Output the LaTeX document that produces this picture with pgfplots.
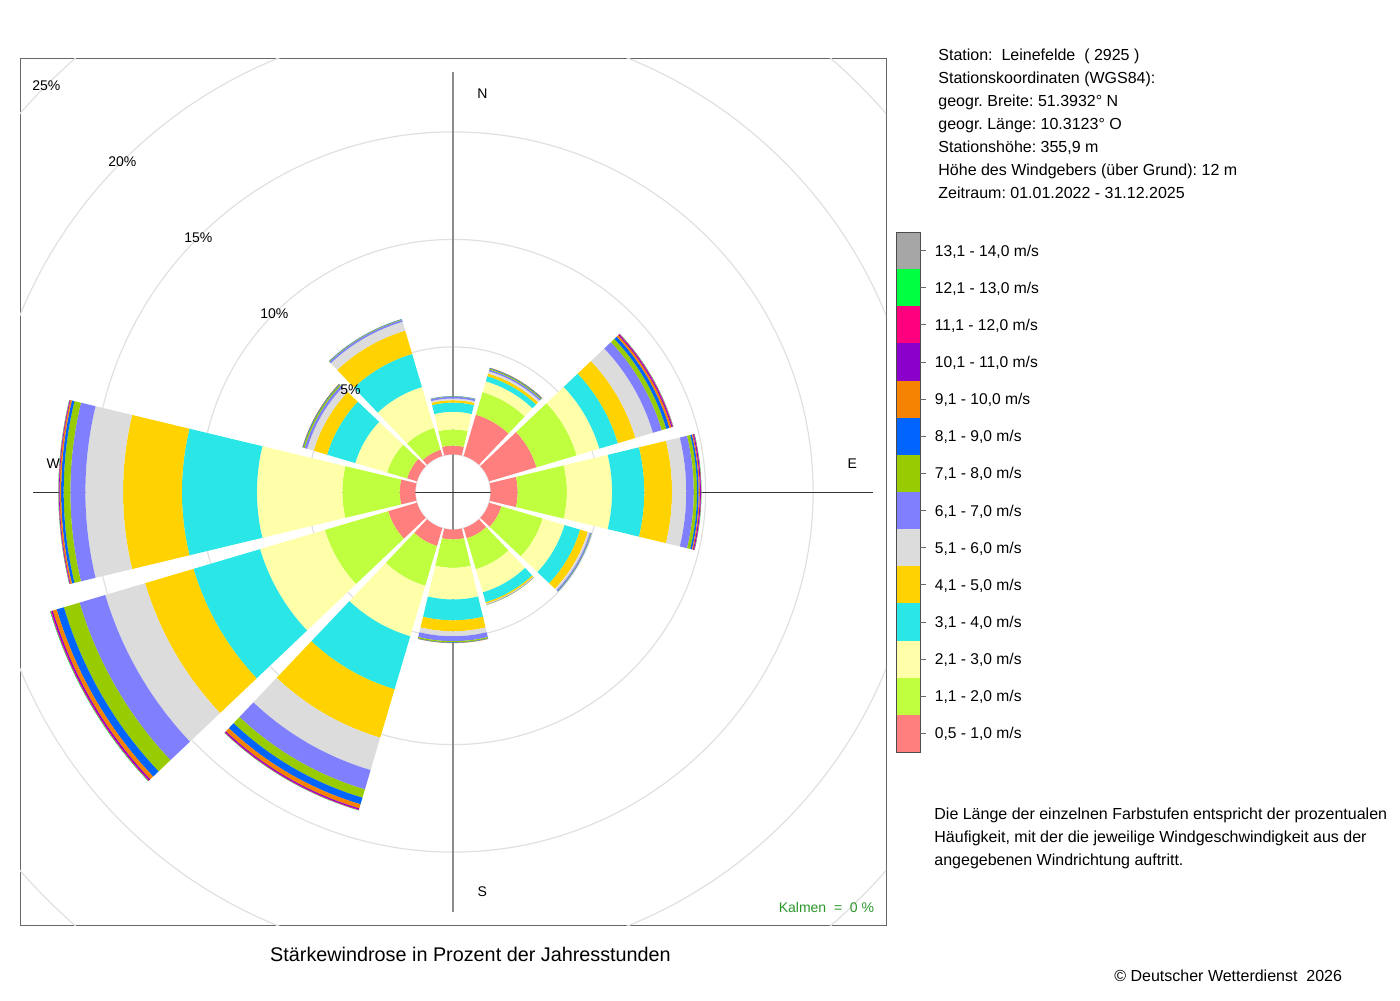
\documentclass[border=0pt]{standalone}
\usepackage{fontspec}
\setmainfont{Liberation Sans}
\usepackage{pgfplots}
\usepackage{pgfplotstable}
\pgfplotsset{compat=1.18}
\frenchspacing

\definecolor{cls1}{HTML}{FF7F7F}
\definecolor{cls2}{HTML}{BFFF3F}
\definecolor{cls3}{HTML}{FFFFAA}
\definecolor{cls4}{HTML}{2AE6E6}
\definecolor{cls5}{HTML}{FFD200}
\definecolor{cls6}{HTML}{DCDCDC}
\definecolor{cls7}{HTML}{8080FF}
\definecolor{cls8}{HTML}{99CC00}
\definecolor{cls9}{HTML}{0064FF}
\definecolor{cls10}{HTML}{F58200}
\definecolor{cls11}{HTML}{8C00CC}
\definecolor{cls12}{HTML}{FF007F}
\definecolor{cls13}{HTML}{00FF40}
\definecolor{cls14}{HTML}{A6A6A6}
\definecolor{gridc}{HTML}{E0E0E0}
\definecolor{kalm}{HTML}{2A962A}

% cumulative frequency (percent of hours) per direction sector and speed class
\pgfplotstableread{
dir c1 c2 c3 c4 c5 c6 c7 c8 c9 c10 c11 c12 c13 c14
0   0.41 1.16 1.98 2.41 2.52 2.60 2.68 2.70 2.71 2.71 2.71 2.71 2.71 2.71
30  2.00 3.10 3.62 3.87 4.00 4.11 4.19 4.24 4.27 4.28 4.28 4.28 4.28 4.28
60  2.30 4.25 5.35 6.25 7.10 7.95 8.38 8.60 8.75 8.85 8.90 8.93 8.94 8.95
90  1.26 3.55 5.65 7.15 8.44 9.10 9.45 9.60 9.68 9.73 9.78 9.80 9.81 9.81
120 0.60 2.60 3.66 4.42 4.79 4.89 4.95 4.97 4.98 4.98 4.98 4.98 4.98 4.98
150 0.50 2.00 3.12 3.60 3.67 3.70 3.72 3.73 3.73 3.73 3.73 3.73 3.73 3.73
180 0.46 1.78 3.25 4.22 4.73 4.96 5.19 5.25 5.27 5.28 5.28 5.28 5.28 5.28
210 0.87 2.80 5.25 7.82 10.17 11.74 12.68 13.08 13.40 13.60 13.66 13.69 13.70 13.70
240 1.40 4.47 7.61 10.84 13.19 15.12 16.37 17.13 17.48 17.67 17.74 17.78 17.80 17.80
270 0.73 3.40 7.37 10.86 13.60 15.35 16.05 16.36 16.48 16.55 16.58 16.60 16.61 16.61
300 0.48 1.45 2.99 4.36 5.01 5.33 5.45 5.52 5.55 5.56 5.56 5.56 5.56 5.56
330 0.30 1.36 3.34 4.95 6.08 6.51 6.60 6.63 6.64 6.64 6.64 6.64 6.64 6.64
}\rosedata

\newcommand\hole{1.749}
% #1 colour, #2 direction (deg, clockwise from N), #3 inner %, #4 outer %
\newcommand\seg[4]{%
  \addplot[fill=#1, draw=none, mark=none, forget plot, samples at={0,1,...,41}, variable=\t]
  ({ifthenelse(\t<20.5,\hole+#4,\hole+#3)*sin(ifthenelse(\t<20.5,#2-13.5+1.35*\t,#2+13.5-1.35*(\t-21)))},
   {ifthenelse(\t<20.5,\hole+#4,\hole+#3)*cos(ifthenelse(\t<20.5,#2-13.5+1.35*\t,#2+13.5-1.35*(\t-21)))});
}

\begin{document}
\begin{tikzpicture}
\path[use as bounding box] (0,0) rectangle (700pt,-500pt);
\begin{axis}[
  at={(10pt,-462.5pt)}, anchor=south west,
  width=433pt, height=433pt, scale only axis,
  xmin=-20.14, xmax=20.14, ymin=-20.14, ymax=20.14,
  xtick=\empty, ytick=\empty,
  axis line style={draw=black!60, line width=0.5pt},
  clip=true,
]
% grid circles
\draw[gridc, line width=0.6pt] (axis cs:0,0) circle[radius=1.749];
\draw[gridc, line width=0.6pt] (axis cs:0,0) circle[radius=6.749];
\draw[gridc, line width=0.6pt] (axis cs:0,0) circle[radius=11.749];
\draw[gridc, line width=0.6pt] (axis cs:0,0) circle[radius=16.749];
\draw[gridc, line width=0.6pt] (axis cs:0,0) circle[radius=21.749];
\draw[gridc, line width=0.6pt] (axis cs:0,0) circle[radius=26.749];
% cross
\draw[black!45, line width=0.9pt] (axis cs:0,-19.53) -- (axis cs:0,19.53);
\draw[black!80, line width=0.5pt] (axis cs:-19.53,0) -- (axis cs:19.53,0);
% bars
\pgfplotsforeachungrouped \i in {0,1,...,11}{%
  \pgfplotstablegetelem{\i}{dir}\of\rosedata\let\sdir\pgfplotsretval
  \def\rprev{0}%
  \pgfplotsforeachungrouped \k in {1,2,...,14}{%
    \pgfplotstablegetelem{\i}{c\k}\of\rosedata\let\rcur\pgfplotsretval
    \pgfmathtruncatemacro\segok{(\rcur>\rprev+0.0001)}%
    \ifnum\segok=1
      \edef\doit{\noexpand\seg{cls\k}{\sdir}{\rprev}{\rcur}}\doit
    \fi
    \let\rprev\rcur
  }%
}
% labels
\node[font=\fontsize{7}{8}\selectfont] at (axis cs:-4.772,4.772) {5\%};
\node[font=\fontsize{7}{8}\selectfont] at (axis cs:-8.308,8.308) {10\%};
\node[font=\fontsize{7}{8}\selectfont] at (axis cs:-11.843,11.843) {15\%};
\node[font=\fontsize{7}{8}\selectfont] at (axis cs:-15.379,15.379) {20\%};
\node[font=\fontsize{7}{8}\selectfont] at (axis cs:-18.914,18.914) {25\%};
\node[font=\fontsize{7}{8}\selectfont] at (axis cs:1.363,18.53) {N};
\node[font=\fontsize{7}{8}\selectfont] at (axis cs:1.363,-18.58) {S};
\node[font=\fontsize{7}{8}\selectfont] at (axis cs:18.57,1.326) {E};
\node[font=\fontsize{7}{8}\selectfont] at (axis cs:-18.59,1.326) {W};
\end{axis}

\begin{scope}[x=0.5pt,y=-0.5pt]
\node[anchor=base east, inner sep=0, text=kalm, font=\fontsize{7}{8}\selectfont] at (874.5,912.5) {Kalmen\ \ =\ \ 0 \%};
\node[anchor=base, inner sep=0, font=\fontsize{9.9}{11}\selectfont] at (470.5,961) {Stärkewindrose in Prozent der Jahresstunden};
\begin{scope}[every node/.style={anchor=base west, inner sep=0, font=\fontsize{8}{9.6}\selectfont}]
\node at (938,60.7) {Station:\ \ Leinefelde\ \ ( 2925 )};
\node at (938,83.7) {Stationskoordinaten (WGS84):};
\node at (938,106.7) {geogr. Breite: 51.3932° N};
\node at (938,129.7) {geogr. Länge: 10.3123° O};
\node at (938,152.7) {Stationshöhe: 355,9 m};
\node at (938,175.7) {Höhe des Windgebers (über Grund): 12 m};
\node at (938,198.7) {Zeitraum: 01.01.2022 - 31.12.2025};
\node at (934,819.7) {Die Länge der einzelnen Farbstufen entspricht der prozentualen};
\node at (934,842.7) {Häufigkeit, mit der die jeweilige Windgeschwindigkeit aus der};
\node at (934,865.7) {angegebenen Windrichtung auftritt.};
\node at (1114,981.7) {© Deutscher Wetterdienst\ \ 2026};
\end{scope}
% colour legend
\fill[cls14] (896,232.00) rectangle (920,269.14);
\fill[cls13] (896,269.14) rectangle (920,306.29);
\fill[cls12] (896,306.29) rectangle (920,343.43);
\fill[cls11] (896,343.43) rectangle (920,380.57);
\fill[cls10] (896,380.57) rectangle (920,417.71);
\fill[cls9]  (896,417.71) rectangle (920,454.86);
\fill[cls8]  (896,454.86) rectangle (920,492.00);
\fill[cls7]  (896,492.00) rectangle (920,529.14);
\fill[cls6]  (896,529.14) rectangle (920,566.29);
\fill[cls5]  (896,566.29) rectangle (920,603.43);
\fill[cls4]  (896,603.43) rectangle (920,640.57);
\fill[cls3]  (896,640.57) rectangle (920,677.71);
\fill[cls2]  (896,677.71) rectangle (920,714.86);
\fill[cls1]  (896,714.86) rectangle (920,752.00);
\draw[black!70, line width=0.5pt] (896,232) rectangle (920,752);
\foreach \yy in {250.57,287.71,324.86,362.00,399.14,436.29,473.43,510.57,547.71,584.86,622.00,659.14,696.29,733.43}
  \draw[black!60, line width=0.5pt] (920,\yy) -- (926,\yy);
\begin{scope}[every node/.style={anchor=base west, inner sep=0, font=\fontsize{7.8}{9}\selectfont}]
\node at (934.5,256.0) {13,1 - 14,0 m/s};
\node at (934.5,293.1) {12,1 - 13,0 m/s};
\node at (934.5,330.3) {11,1 - 12,0 m/s};
\node at (934.5,367.4) {10,1 - 11,0 m/s};
\node at (934.5,404.5) {9,1 - 10,0 m/s};
\node at (934.5,441.7) {8,1 - 9,0 m/s};
\node at (934.5,478.8) {7,1 - 8,0 m/s};
\node at (934.5,516.0) {6,1 - 7,0 m/s};
\node at (934.5,553.1) {5,1 - 6,0 m/s};
\node at (934.5,590.3) {4,1 - 5,0 m/s};
\node at (934.5,627.4) {3,1 - 4,0 m/s};
\node at (934.5,664.5) {2,1 - 3,0 m/s};
\node at (934.5,701.7) {1,1 - 2,0 m/s};
\node at (934.5,738.8) {0,5 - 1,0 m/s};
\end{scope}
\end{scope}
\end{tikzpicture}
\end{document}
